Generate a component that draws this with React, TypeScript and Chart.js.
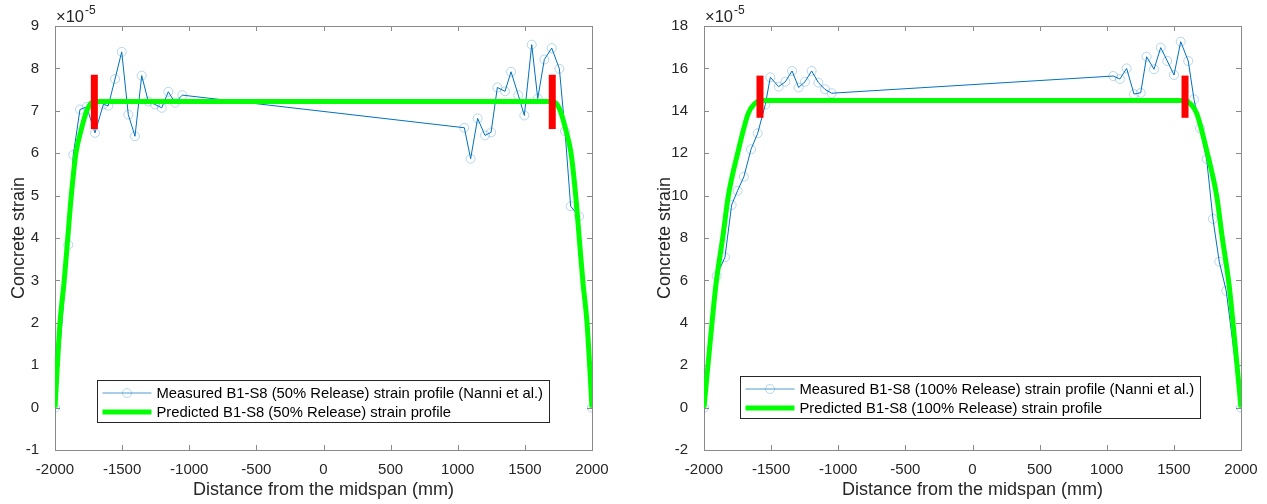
import React, { useEffect, useRef } from "react";
import { Chart, registerables } from "chart.js";

Chart.register(...registerables);

const FONT = "'Liberation Sans', Arial, Helvetica, sans-serif";

// ---------- Data (strain values in units of 1e-5) ----------
const xTicksMin = -2000;
const xTicksMax = 2000;
const xTickStep = 500;

// Left chart: 50% release
const leftMeasuredX = [-2000, -1901, -1864, -1814, -1764, -1702, -1640, -1603, -1553, -1503, -1454, -1404, -1354, -1305, -1255, -1205, -1156, -1106, -1052, 1049, 1096, 1148, 1203, 1248, 1295, 1352, 1397, 1451, 1496, 1551, 1596, 1645, 1700, 1757, 1799, 1841, 1903, 2000];
const leftMeasuredY = [0, 3.84, 5.96, 7.03, 7.09, 6.48, 7.15, 7.12, 7.75, 8.39, 6.91, 6.4, 7.83, 7.22, 7.15, 7.07, 7.45, 7.19, 7.37, 6.6, 5.87, 6.82, 6.42, 6.49, 7.55, 7.46, 7.92, 7.37, 6.89, 8.56, 7.29, 8.21, 8.48, 7.99, 6.52, 4.75, 4.51, 0];
const leftPredictedX = [-2000, -1963, -1933, -1908, -1880, -1844, -1809, -1764, -1735, -1707, 1704, 1735, 1764, 1809, 1844, 1880, 1908, 1933, 1963, 2000];
const leftPredictedY = [0, 2.0, 2.94, 3.88, 4.95, 6.0, 6.5, 7.0, 7.17, 7.22, 7.22, 7.17, 7.0, 6.5, 6.0, 4.95, 3.88, 2.94, 2.0, 0];
const leftMarkerX = [-1707, 1704];
const leftMarkerY = [6.57, 7.85];
const leftYMin = -1;
const leftYMax = 9;
const leftYStep = 1;
const leftMeasuredLabel = "Measured B1-S8 (50% Release) strain profile (Nanni et al.)";
const leftPredictedLabel = "Predicted B1-S8 (50% Release) strain profile";

// Right chart: 100% release
const rightMeasuredX = [-2000, -1906, -1844, -1794, -1750, -1703, -1650, -1600, -1543, -1506, -1444, -1394, -1344, -1295, -1248, -1198, -1148, -1099, -1049, 1048, 1098, 1148, 1203, 1253, 1297, 1352, 1402, 1451, 1501, 1551, 1607, 1650, 1695, 1744, 1791, 1838, 1890, 2000];
const rightMeasuredY = [0, 6.21, 7.09, 9.56, 10.23, 10.89, 12.18, 12.94, 14.3, 15.58, 15.14, 15.37, 15.88, 15.1, 15.37, 15.88, 15.33, 15.01, 14.83, 15.64, 15.5, 16.0, 14.79, 14.85, 16.55, 15.96, 16.98, 16.35, 15.69, 17.26, 16.35, 14.54, 13.17, 11.73, 8.9, 6.88, 5.51, 0];
const rightPredictedX = [-2000, -1955, -1911, -1861, -1819, -1749, -1670, -1620, -1583, 1583, 1620, 1670, 1749, 1819, 1861, 1911, 1955, 2000];
const rightPredictedY = [0, 3.03, 5.8, 7.99, 9.98, 12.0, 13.88, 14.35, 14.48, 14.48, 14.35, 13.88, 12.0, 9.98, 7.99, 5.8, 3.03, 0];
const rightMarkerX = [-1583, 1583];
const rightMarkerY = [13.67, 15.66];
const rightYMin = -2;
const rightYMax = 18;
const rightYStep = 2;
const rightMeasuredLabel = "Measured B1-S8 (100% Release) strain profile (Nanni et al.)";
const rightPredictedLabel = "Predicted B1-S8 (100% Release) strain profile";

const xTitle = "Distance from the midspan (mm)";
const yTitle = "Concrete strain";
const exponentBase = "\u00D710";
const exponentPower = "-5";

// ---------- Chart building ----------
type Pt = { x: number; y: number };
const zip = (xs: number[], ys: number[]): Pt[] => xs.map((x, i) => ({ x, y: ys[i] }));

const BLUE = "#0072BD";
const MARKER = "rgba(0,114,189,0.28)";
const GREEN = "#00FF00";
const RED = "#FF0000";
const TEXT = "#262626";
const AXIS = "#8a8a8a";

interface ChartSpec {
  measuredX: number[];
  measuredY: number[];
  predictedX: number[];
  predictedY: number[];
  markerX: number[];
  markerY: number[];
  yMin: number;
  yMax: number;
  yStep: number;
  measuredLabel: string;
  predictedLabel: string;
  canvasWidth: number;
  yAxisWidth: number;
  padRight: number;
  yTitlePad: number;
  legendDX: number;
  legendTop: number;
}

function makePlugin(spec: ChartSpec) {
  return {
    id: "matlabDecor",
    beforeDatasetsDraw(chart: any) {
      const { ctx, chartArea: a, scales } = chart;
      ctx.save();
      ctx.strokeStyle = AXIS;
      ctx.lineWidth = 1;
      ctx.beginPath();
      const tl = 5;
      for (const t of scales.x.ticks) {
        const px = Math.round(scales.x.getPixelForValue(t.value)) + 0.5;
        ctx.moveTo(px, a.bottom);
        ctx.lineTo(px, a.bottom - tl);
        ctx.moveTo(px, a.top);
        ctx.lineTo(px, a.top + tl);
      }
      for (const t of scales.y.ticks) {
        const py = Math.round(scales.y.getPixelForValue(t.value)) + 0.5;
        ctx.moveTo(a.left, py);
        ctx.lineTo(a.left + tl, py);
        ctx.moveTo(a.right, py);
        ctx.lineTo(a.right - tl, py);
      }
      ctx.stroke();
      ctx.strokeRect(Math.round(a.left) + 0.5, Math.round(a.top) + 0.5, Math.round(a.right - a.left), Math.round(a.bottom - a.top));
      ctx.restore();
    },
    afterDraw(chart: any) {
      const { ctx, chartArea: a } = chart;
      ctx.save();
      // exponent label
      ctx.fillStyle = TEXT;
      ctx.textBaseline = "alphabetic";
      ctx.textAlign = "left";
      ctx.font = `16.5px ${FONT}`;
      const bx0 = a.left + 1;
      ctx.fillText(exponentBase, bx0, a.top - 4);
      const w0 = ctx.measureText(exponentBase).width;
      ctx.font = `12px ${FONT}`;
      ctx.fillText(exponentPower, bx0 + w0 + 1, a.top - 12);

      // legend
      const ds = chart.data.datasets;
      const labels = [ds[0].label, ds[1].label];
      ctx.font = `14.8px ${FONT}`;
      const tw = Math.max(...labels.map((l: string) => ctx.measureText(l).width));
      const bx = Math.round(a.left + spec.legendDX) + 0.5;
      const by = Math.round(spec.legendTop) + 0.5;
      const bw = Math.round(59 + tw + 6);
      const bh = 42;
      ctx.fillStyle = "#ffffff";
      ctx.fillRect(bx, by, bw, bh);
      ctx.strokeStyle = TEXT;
      ctx.lineWidth = 1;
      ctx.strokeRect(bx, by, bw, bh);
      const r1 = by + 12.5;
      const r2 = by + 31.5;
      // measured sample
      ctx.strokeStyle = BLUE;
      ctx.globalAlpha = 0.7;
      ctx.lineWidth = 1;
      ctx.beginPath();
      ctx.moveTo(bx + 5, r1);
      ctx.lineTo(bx + 54, r1);
      ctx.stroke();
      ctx.globalAlpha = 1;
      ctx.strokeStyle = MARKER;
      ctx.beginPath();
      ctx.arc(bx + 29.5, r1, 4.5, 0, Math.PI * 2);
      ctx.stroke();
      // predicted sample
      ctx.strokeStyle = GREEN;
      ctx.lineWidth = 5;
      ctx.beginPath();
      ctx.moveTo(bx + 5, r2);
      ctx.lineTo(bx + 54, r2);
      ctx.stroke();
      // texts
      ctx.fillStyle = "#000000";
      ctx.textBaseline = "middle";
      ctx.fillText(labels[0], bx + 59, r1 + 0.5);
      ctx.fillText(labels[1], bx + 59, r2 + 0.5);
      ctx.restore();
    },
  };
}

function buildConfig(spec: ChartSpec): any {
  const markerDataset = (x: number) => ({
    label: "",
    data: [
      { x, y: spec.markerY[0] },
      { x, y: spec.markerY[1] },
    ],
    borderColor: RED,
    borderWidth: 7,
    borderCapStyle: "butt",
    pointRadius: 0,
    order: 1,
  });
  return {
    type: "line",
    data: {
      datasets: [
        {
          label: spec.measuredLabel,
          data: zip(spec.measuredX, spec.measuredY),
          borderColor: BLUE,
          borderWidth: 1,
          pointRadius: 4.5,
          pointBorderColor: MARKER,
          pointBackgroundColor: "rgba(0,0,0,0)",
          pointBorderWidth: 1,
          tension: 0,
          order: 3,
        },
        {
          label: spec.predictedLabel,
          data: zip(spec.predictedX, spec.predictedY),
          borderColor: GREEN,
          borderWidth: 5,
          pointRadius: 0,
          cubicInterpolationMode: "monotone",
          order: 2,
        },
        markerDataset(spec.markerX[0]),
        markerDataset(spec.markerX[1]),
      ],
    },
    options: {
      animation: false,
      responsive: false,
      devicePixelRatio: 1,
      events: [],
      layout: { padding: { top: 26, right: spec.padRight, bottom: 0, left: 0 } },
      plugins: {
        legend: { display: false },
        tooltip: { enabled: false },
        title: { display: false },
      },
      scales: {
        x: {
          type: "linear",
          min: xTicksMin,
          max: xTicksMax,
          grid: { display: false },
          border: { display: false },
          ticks: {
            stepSize: xTickStep,
            color: TEXT,
            font: { size: 15, family: FONT },
            padding: 3,
            maxRotation: 0,
            autoSkip: false,
            callback: (v: number) => String(v),
          },
          title: {
            display: true,
            text: xTitle,
            color: TEXT,
            font: { size: 18, family: FONT },
            padding: { top: 0, bottom: 3 },
          },
          afterFit: (s: any) => {
            s.height = 54;
          },
        },
        y: {
          type: "linear",
          min: spec.yMin,
          max: spec.yMax,
          grid: { display: false },
          border: { display: false },
          ticks: {
            stepSize: spec.yStep,
            color: TEXT,
            font: { size: 15, family: FONT },
            padding: 8,
            autoSkip: false,
            callback: (v: number) => String(v),
          },
          title: {
            display: true,
            text: yTitle,
            color: TEXT,
            font: { size: 18, family: FONT },
            padding: { top: spec.yTitlePad, bottom: 0 },
          },
          afterFit: (s: any) => {
            s.width = spec.yAxisWidth;
          },
        },
      },
    },
    plugins: [makePlugin(spec)],
  };
}

function StrainChart({ spec, left }: { spec: ChartSpec; left: number }) {
  const ref = useRef<HTMLCanvasElement>(null);
  useEffect(() => {
    const chart = new Chart(ref.current as HTMLCanvasElement, buildConfig(spec));
    return () => chart.destroy();
  }, [spec]);
  return (
    <canvas
      ref={ref}
      width={spec.canvasWidth}
      height={504}
      style={{ position: "absolute", left, top: 0, width: spec.canvasWidth, height: 504 }}
    />
  );
}

const leftSpec: ChartSpec = {
  measuredX: leftMeasuredX,
  measuredY: leftMeasuredY,
  predictedX: leftPredictedX,
  predictedY: leftPredictedY,
  markerX: leftMarkerX,
  markerY: leftMarkerY,
  yMin: leftYMin,
  yMax: leftYMax,
  yStep: leftYStep,
  measuredLabel: leftMeasuredLabel,
  predictedLabel: leftPredictedLabel,
  canvasWidth: 633,
  yAxisWidth: 55,
  padRight: 41,
  yTitlePad: 8,
  legendDX: 42,
  legendTop: 380,
};

const rightSpec: ChartSpec = {
  measuredX: rightMeasuredX,
  measuredY: rightMeasuredY,
  predictedX: rightPredictedX,
  predictedY: rightPredictedY,
  markerX: rightMarkerX,
  markerY: rightMarkerY,
  yMin: rightYMin,
  yMax: rightYMax,
  yStep: rightYStep,
  measuredLabel: rightMeasuredLabel,
  predictedLabel: rightPredictedLabel,
  canvasWidth: 634,
  yAxisWidth: 71,
  padRight: 26,
  yTitlePad: 21,
  legendDX: 36,
  legendTop: 376,
};

export default function App() {
  useEffect(() => {
    document.body.style.margin = "0";
    document.body.style.background = "#ffffff";
  }, []);
  return (
    <div style={{ position: "relative", width: 1267, height: 504, background: "#ffffff" }}>
      <StrainChart spec={leftSpec} left={0} />
      <StrainChart spec={rightSpec} left={633} />
    </div>
  );
}
